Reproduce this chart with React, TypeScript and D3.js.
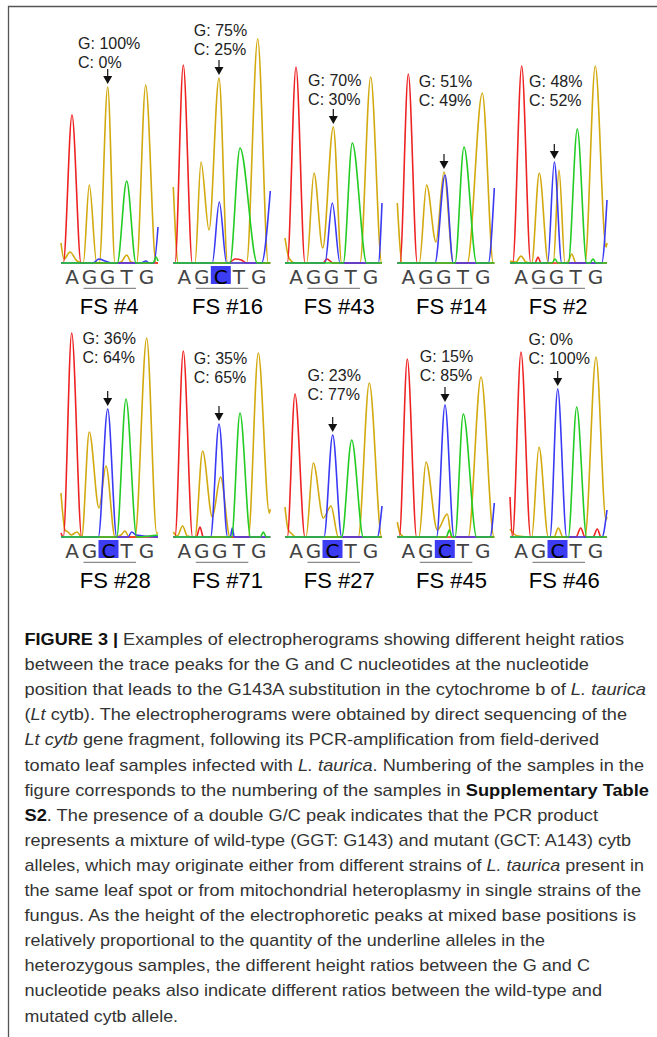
import React from "react";
import * as d3 from "d3";

// samples, in reading order (two rows of five)
const SAMPLES = ["FS #4", "FS #16", "FS #43", "FS #14", "FS #2", "FS #28", "FS #71", "FS #27", "FS #45", "FS #46"];
const G_PCT = [100, 75, 70, 51, 48, 36, 35, 23, 15, 0];
const C_PCT = [0, 25, 30, 49, 52, 64, 65, 77, 85, 100];
const CALLS = ["AGGTG", "AGCTG", "AGGTG", "AGGTG", "AGGTG", "AGCTG", "AGGTG", "AGCTG", "AGCTG", "AGCTG"];
// scan position of each base call
const BASE_POS = [11, 28.5, 46.5, 65.5, 85.5];
// height of the G/C text label above the baseline (signal units)
const LABEL_LEVEL = [201, 214, 164, 163, 163, 180, 160, 143, 162, 179];

// trace points [scan, signal]
const TRACE_A = [
  [[0, 0], [2.3, 0], [11, 148], [20, 0], [97, 0]],
  [[0, 0], [1.7, 0], [10, 198], [19, 0], [55, 0], [62, 4], [68, 3], [73, 0], [97, 0]],
  [[0, 0], [2.3, 0], [11, 196], [20, 0], [38, 0], [42, 4], [48, 0], [97, 0]],
  [[0, 0], [2.7, 0], [11, 189], [20, 0], [97, 0]],
  [[0, 0], [2.7, 0], [11.7, 197], [20.7, 0], [25, 0], [28, 6], [31, 0], [97, 0]],
  [[0, 4], [2.3, 0], [10.7, 204], [20.7, 0], [97, 0]],
  [[0, 0], [1.7, 0], [10, 186], [19.3, 0], [23, 0], [26.7, 10], [30, 0], [97, 0]],
  [[0, 0], [2.3, 0], [10, 143], [20, 0], [97, 0]],
  [[0, 0], [2, 0], [10, 178], [19.3, 0], [97, 0]],
  [[0, 40], [2.5, 0], [11, 185], [20.7, 0], [66, 0], [70.7, 9], [75, 0], [83, 0], [87.3, 8], [91, 0], [97, 0]],
];
const TRACE_G = [
  [[0, 20], [3, 4], [9, 11], [16, 2], [22.3, 0], [28.3, 78], [35.7, 0], [38.3, 0], [46.7, 176], [54, 0], [60, 1], [65.7, 8], [70, 1], [75.7, 0], [84.7, 178], [95, 0], [97, 0]],
  [[0, 76], [5, 0], [21.7, 0], [27.7, 101], [35.7, 33], [45.7, 185], [54.3, 0], [73.3, 0], [84.4, 224], [95, 0], [97, 0]],
  [[0, 25], [4, 5], [10, 0], [21.7, 0], [29, 90], [37.7, 15], [48.3, 136], [56.7, 0], [75, 0], [85.7, 186], [96.7, 0], [97, 0]],
  [[0, 60], [5, 0], [22, 0], [29.3, 78], [38.7, 21], [46.7, 91], [56, 0], [70, 0], [85, 170], [96, 0], [97, 0]],
  [[0, 2], [6, 1], [11, 7], [16, 1], [21.7, 0], [29.3, 90], [38.3, 0], [43.3, 0], [49, 93], [55, 0], [58, 1], [61.7, 9], [66, 0], [75, 0], [85.3, 197], [96, 16], [97, 20]],
  [[0, 44], [4, 7], [7, 5], [10, 2], [16, 5], [20.7, 0], [28.3, 105], [38, 29], [45, 71], [54, 0], [60, 2], [64, 6], [68, 0], [74, 0], [85.7, 199], [95.7, 4], [97, 4]],
  [[0, 5], [4, 1], [9.3, 11], [14, 1], [21.7, 0], [29.3, 86], [39, 20], [47.3, 60], [56.7, 0], [75, 0], [85, 184], [96, 24], [97, 28]],
  [[0, 30], [3, 8], [7, 3], [11, 0], [21, 0], [28.3, 74], [38.3, 19], [46, 31], [53.3, 0], [73.3, 0], [84.3, 154], [96.7, 0], [97, 0]],
  [[0, 15], [3, 3], [8, 0], [21.7, 0], [28.7, 75], [40, 7], [50, 23], [54.3, 0], [71, 0], [83.7, 160], [96.7, 0], [97, 0]],
  [[0, 8], [4, 3], [8, 1], [21.7, 0], [29, 90], [38.3, 0], [44, 0], [48.3, 9], [53, 0], [75, 0], [86, 180], [96, 17], [97, 20]],
];
const TRACE_C = [
  [[0, 0], [32, 0], [38, 4], [44, 2], [50, 0], [80, 0], [85, 2], [88, 0], [93, 0], [97, 36]],
  [[0, 0], [39, 0], [46, 61], [53.3, 0], [88.3, 0], [97, 72]],
  [[0, 0], [40, 0], [47.3, 60], [55, 0], [93.3, 0], [97, 60]],
  [[0, 0], [37.7, 0], [47.7, 88], [56, 0], [91, 0], [97, 75]],
  [[0, 0], [37.7, 0], [44.3, 101], [51.7, 0], [91.7, 0], [97, 63]],
  [[0, 0], [37.3, 0], [46.7, 128], [55.7, 0], [67, 0], [70.7, 5], [75, 2], [97, 0]],
  [[0, 0], [37.3, 0], [45.7, 113], [54.3, 0], [57, 0], [59, 9], [61, 0], [97, 0]],
  [[0, 0], [39, 0], [47.7, 102], [56.7, 0], [92.3, 0], [97, 31]],
  [[0, 0], [39.3, 0], [47.7, 132], [56.7, 0], [92.7, 0], [97, 34]],
  [[0, 0], [40, 0], [47.7, 148], [56.7, 0], [92, 0], [97, 27]],
];
const TRACE_T = [
  [[0, 0], [56.3, 0], [65.7, 82], [75, 0], [92, 0], [95, 6], [97, 2]],
  [[0, 0], [56.7, 0], [66.7, 115], [84, 0], [97, 0]],
  [[0, 0], [58.3, 0], [67.3, 120], [81.7, 0], [97, 0]],
  [[0, 0], [57.7, 0], [66.7, 116], [79.3, 0], [97, 0]],
  [[0, 0], [42, 0], [45, 4], [48, 0], [58.3, 0], [67.3, 134], [76.7, 0], [80, 0], [83, 4], [86, 0], [97, 0]],
  [[0, 0], [55.7, 0], [65, 138], [75.7, 0], [97, 2]],
  [[0, 0], [58.3, 0], [66.7, 124], [77.3, 0], [87, 0], [90, 5], [93, 0], [97, 0]],
  [[0, 0], [56.7, 0], [66.7, 97], [78.3, 0], [97, 0]],
  [[0, 0], [49, 0], [52, 7], [55, 0], [57.7, 0], [66, 123], [79.3, 0], [97, 0]],
  [[0, 0], [58.3, 0], [66.7, 130], [76.7, 0], [97, 0]],
];

const CAPTION: [string, string][][] = [
  [["FIGURE 3 | ", "b"], ["Examples of electropherograms showing different height ratios", ""]],
  [["between the trace peaks for the G and C nucleotides at the nucleotide", ""]],
  [["position that leads to the G143A substitution in the cytochrome b of ", ""], ["L. taurica", "i"]],
  [["(", ""], ["Lt", "i"], [" cytb). The electropherograms were obtained by direct sequencing of the", ""]],
  [["Lt cytb", "i"], [" gene fragment, following its PCR-amplification from field-derived", ""]],
  [["tomato leaf samples infected with ", ""], ["L. taurica", "i"], [". Numbering of the samples in the", ""]],
  [["figure corresponds to the numbering of the samples in ", ""], ["Supplementary Table", "b"]],
  [["S2", "b"], [". The presence of a double G/C peak indicates that the PCR product", ""]],
  [["represents a mixture of wild-type (GGT: G143) and mutant (GCT: A143) cytb", ""]],
  [["alleles, which may originate either from different strains of ", ""], ["L. taurica", "i"], [" present in", ""]],
  [["the same leaf spot or from mitochondrial heteroplasmy in single strains of the", ""]],
  [["fungus. As the height of the electrophoretic peaks at mixed base positions is", ""]],
  [["relatively proportional to the quantity of the underline alleles in the", ""]],
  [["heterozygous samples, the different height ratios between the G and C", ""]],
  [["nucleotide peaks also indicate different ratios between the wild-type and", ""]],
  [["mutated cytb allele.", ""]],
];
const CAPTION_END = [624, 589, 646, 627, 599, 644, 649, 598, 631, 644, 641, 636, 545, 590, 602, 178];

const W = 657, H = 1037;
const COL_X = [61, 173.3, 285, 397.3, 510];
const ROW_BASE = [263, 537];
const PANEL_W = 97;
const COLORS = { A: "#ee2222", G: "#d2a90e", C: "#3a3af5", T: "#22cc22" };
const LABEL_FONT = "16px 'Liberation Sans', Arial, sans-serif";

let ctx: CanvasRenderingContext2D | null = null;
function textWidth(s: string, font: string) {
  if (!ctx) ctx = document.createElement("canvas").getContext("2d");
  if (!ctx) return s.length * 8;
  ctx.font = font;
  return ctx.measureText(s).width;
}

function Panel({ i }: { i: number }) {
  const left = COL_X[i % 5];
  const base = ROW_BASE[Math.floor(i / 5)];
  const x = d3.scaleLinear().domain([0, PANEL_W]).range([left, left + PANEL_W]);
  const y = d3.scaleLinear().domain([0, 100]).range([base, base - 100]);
  const line = d3.line<number[]>().x(d => x(d[0])).y(d => y(d[1])).curve(d3.curveMonotoneX);

  // arrow sits on the tallest G or C peak at the queried position
  const peak = [...TRACE_G[i], ...TRACE_C[i]]
    .filter(p => p[0] > 38 && p[0] < 56)
    .reduce((a, b) => (b[1] > a[1] ? b : a));
  const ax = x(peak[0]);
  const tip = y(peak[1]) - 3;

  const l1 = `G: ${G_PCT[i]}%`;
  const l2 = `C: ${C_PCT[i]}%`;
  const bw = Math.max(textWidth(l1, LABEL_FONT), textWidth(l2, LABEL_FONT));
  const tx = ax + 1.5 - bw / 2;
  const ty2 = y(LABEL_LEVEL[i]) + 5.8;
  const ty1 = ty2 - 18.5;

  const call = CALLS[i];
  return (
    <g>
      <path d={line(TRACE_G[i] as number[][]) || ""} fill="none" stroke={COLORS.G} strokeWidth={1.6} />
      <path d={line(TRACE_A[i] as number[][]) || ""} fill="none" stroke={COLORS.A} strokeWidth={1.6} />
      <path d={line(TRACE_C[i] as number[][]) || ""} fill="none" stroke={COLORS.C} strokeWidth={1.6} />
      <path d={line(TRACE_T[i] as number[][]) || ""} fill="none" stroke={COLORS.T} strokeWidth={1.6} />

      <text x={tx} y={ty1} fontFamily="'Liberation Sans', Arial, sans-serif" fontSize={16} fill="#222">{l1}</text>
      <text x={tx} y={ty2} fontFamily="'Liberation Sans', Arial, sans-serif" fontSize={16} fill="#222">{l2}</text>
      <line x1={ax} x2={ax} y1={tip - 15} y2={tip - 6} stroke="#111" strokeWidth={1.2} />
      <path d={`M${ax - 4.5},${tip - 8}L${ax + 4.5},${tip - 8}L${ax},${tip}Z`} fill="#111" />

      {call.split("").map((b, k) => {
        const cx = x(BASE_POS[k]);
        const hl = k === 2 && b === "C";
        return (
          <g key={k}>
            {hl && <rect x={cx - 9} y={base + 3} width={20} height={18} fill="#3c3cf2" />}
            <text x={hl ? cx + 1 : cx} y={base + 21} textAnchor="middle" fontFamily="'DejaVu Sans', Verdana, sans-serif"
              fontSize={20} fill={hl ? "#000" : "#444"}>{b}</text>
          </g>
        );
      })}
      <line x1={x(BASE_POS[1]) - 6} x2={x(BASE_POS[3]) + 9.5} y1={base + 25.3} y2={base + 25.3} stroke="#8a8a8a" strokeWidth={1.3} />
      <text x={x(18.7)} y={base + 50.5} fontFamily="'Liberation Sans', Arial, sans-serif" fontSize={22} fill="#000">{SAMPLES[i]}</text>
    </g>
  );
}

export default function App() {
  return (
    <div style={{ position: "absolute", left: 0, top: 0 }}>
      <svg width={W} height={H} style={{ display: "block", background: "#fff" }}>
        <rect x={0} y={0} width={W} height={H} fill="#fff" />
        <path d={`M8.5,${H}L8.5,6.5L${W},6.5`} fill="none" stroke="#555" strokeWidth={1.3} />
        {SAMPLES.map((_, i) => <Panel key={i} i={i} />)}
        {CAPTION.map((segs, li) => (
          <text key={li} x={24.5} y={645 + li * 25.1} fontFamily="'Liberation Sans', Arial, sans-serif" fontSize={17}
            fill="#333" textLength={CAPTION_END[li] - 24.5} lengthAdjust="spacingAndGlyphs" style={{ whiteSpace: "pre" }}>
            {segs.map(([t, k], si) => (
              <tspan key={si} fontWeight={k === "b" ? "bold" : "normal"} fontStyle={k === "i" ? "italic" : "normal"}
                fill={k === "b" ? "#111" : "#333"}>{t}</tspan>
            ))}
          </text>
        ))}
      </svg>
    </div>
  );
}
